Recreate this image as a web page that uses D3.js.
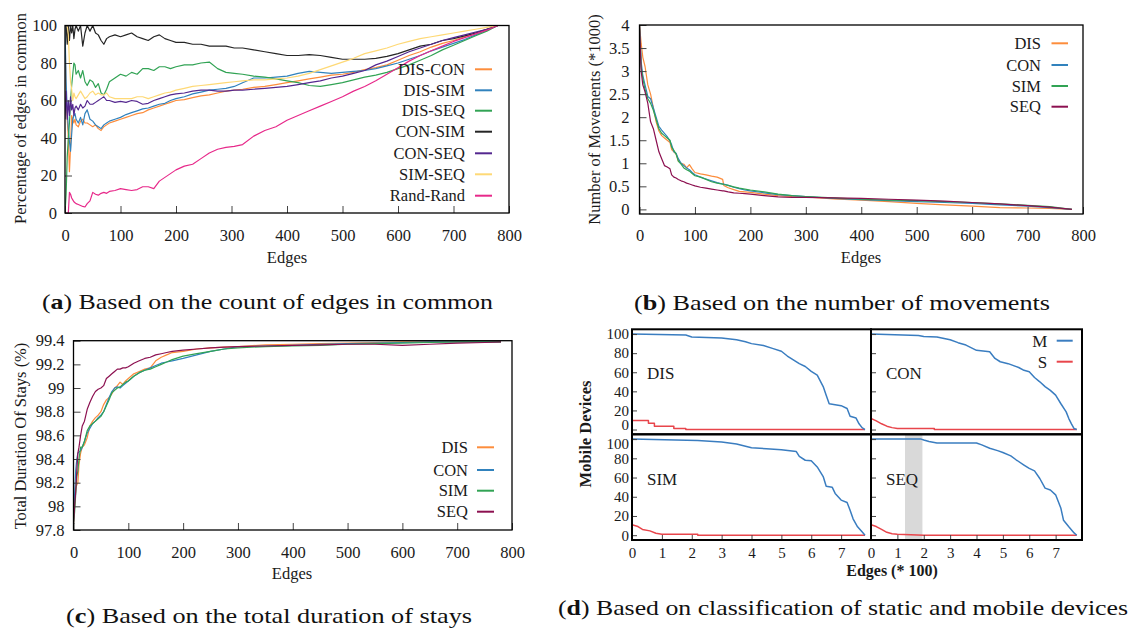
<!DOCTYPE html>
<html><head><meta charset="utf-8">
<script src="https://cdn.jsdelivr.net/npm/d3@7"></script>
<style>body{margin:0;background:#fff}</style></head>
<body>
<svg id="c" width="1130" height="630"></svg>
<script>
// ---------- Panel (a): percentage of edges in common ----------
const xA = [0,2,4,6,8,10,12,14,16,18,20,24,28,32,36,40,45,50,55,60,65,70,75,80,90,100,110,120,130,140,150,160,170,180,190,200,215,230,245,260,275,290,305,320,340,360,380,400,420,440,460,480,500,520,540,560,580,600,620,640,660,680,700,720,740,760,780];
const disCon = [100,60,50,40,22,35,52,50,48,50,47,46,49,50,48,48,47,46,47,45,44,46,47,48,49,50,51,52,53,53.5,55,56,57,58,59,60,60.5,61.5,62.5,63,64,65,65.5,66,67,67.5,68.5,69.5,70.5,71.5,72.5,73.5,74,75,76.5,77.5,79,81.5,84,86,88.5,90.5,92,94,96,98,100];
const disSim = [100,70,55,45,38,33,42,50,52,53,50,48,51,47,53,55,50,49,47,46,45,47,48,49,50,51,52.5,53.5,54.5,55.5,56,57,58,58.5,60,61,62,63.5,64.5,65.5,66,66.5,67.5,69.5,72,72,72.5,73,74.5,75.5,75,74.5,75,75.5,76,77,78.5,80,82,84,86.5,88.5,90.5,92.5,95,97.5,100];
const disSeq = [0,10,30,40,48,60,68,74,80,79,74,76,72,76,70,68,71,70,67,69,64,63,66,70,72,74,73,75,74,77,77,76,78,78,77,78,79,79,80,80.5,77,75,74.5,74,73,72.5,71.5,70.5,69.5,68,67.5,68.5,69.5,71,72.5,73.5,75,77,79,81.5,84,87,89.5,92,94.5,97,100];
const conSim = [100,100,90,100,92,100,96,100,93,98,100,97,100,89,96,100,97,100,96,95,92,90,93,94,95,94,95,96,94,93,92,94,95,93,92,91,91,90,90,89,89,89,88,88,87,86,85,84,84,84.5,84,83,82,82,82,82.5,83.5,85,87,89,90,92,93,94.5,96,98,100];
const conSeq = [50,65,50,60,52,62,55,58,52,56,57,55,58,56,57,60,58,58,59,60,61,62,60,60,59,59.5,59,60,59.5,58,58.5,60,61,62,63,63.5,64,65,65.5,65.5,65,65,65.5,65.5,66,66.5,67,67.5,68.5,69.5,70.5,72,73,74.5,76,79,81,83.5,86,88,90,92,93.5,95,96.5,98,100];
const simSeq = [100,100,100,95,80,70,66,60,64,62,61,63,65,63,61,62,64,65,63,64,63,63,64,62,61,61,61,61,62,62,61,62,63,64,64.5,65.5,66.5,67.5,68,68.5,69,69.5,70,70.5,71,71,71.5,72,73,74.5,76.5,78.5,80.5,82.5,85,86.5,88,90,91.5,93,94,95,96,97,98,99,100];
const randRand = [0,0,0,0,11,10,8,7,6,5.5,5,4.5,4,3.5,3.2,5,6.5,11,10,9.5,10.5,11,10.5,11.5,12,13,12.5,12,12.5,14,14,13,17,19,21,23,25,26,29,32,34,35,35.5,36.5,41,44,46,49.5,52,54.5,57,59.5,62,65,67.5,70.5,74,77.5,81,84,86.5,89,91.5,93.5,95.5,97.5,100];
const namesA = ["DIS-CON","DIS-SIM","DIS-SEQ","CON-SIM","CON-SEQ","SIM-SEQ","Rand-Rand"];
const xTicksA = [0,100,200,300,400,500,600,700,800];
const yTicksA = [0,20,40,60,80,100];

// ---------- Panel (b): number of movements (*1000) ----------
const xB = [0,3,6,10,15,20,25,30,35,40,45,50,55,58,62,66,70,75,80,85,90,95,100,110,120,130,140,150,152,160,170,180,190,200,225,250,275,300,350,400,450,500,550,600,650,700,740,780];
const movDIS = [4,3.6,3.3,3.1,2.7,2.5,2.2,1.9,1.7,1.6,1.55,1.5,1.45,1.3,1.25,1.2,1.05,1.0,0.98,0.9,0.97,0.88,0.8,0.77,0.75,0.72,0.7,0.65,0.52,0.47,0.43,0.39,0.38,0.37,0.33,0.3,0.28,0.27,0.23,0.2,0.17,0.13,0.1,0.07,0.04,0.03,0.02,0];
const movCON = [4,3.2,2.9,2.7,2.45,2.4,2.2,2.0,1.8,1.72,1.65,1.58,1.48,1.4,1.25,1.22,1.1,1.0,0.95,0.9,0.86,0.8,0.75,0.7,0.66,0.62,0.58,0.55,0.55,0.52,0.48,0.45,0.42,0.4,0.36,0.32,0.3,0.28,0.24,0.21,0.19,0.17,0.15,0.13,0.1,0.07,0.04,0];
const movSIM = [4,3.1,2.85,2.6,2.4,2.3,2.15,1.95,1.75,1.65,1.6,1.55,1.5,1.35,1.28,1.2,1.05,0.98,0.9,0.86,0.83,0.78,0.73,0.7,0.65,0.6,0.57,0.55,0.54,0.52,0.49,0.46,0.44,0.42,0.38,0.33,0.3,0.28,0.25,0.22,0.2,0.19,0.17,0.15,0.12,0.09,0.06,0];
const movSEQ = [4,3.0,2.7,2.55,2.3,1.9,1.75,1.5,1.25,1.1,0.95,0.92,0.88,0.75,0.7,0.68,0.65,0.62,0.6,0.57,0.55,0.53,0.51,0.48,0.46,0.44,0.42,0.4,0.4,0.38,0.36,0.35,0.34,0.33,0.3,0.27,0.26,0.26,0.25,0.24,0.22,0.2,0.18,0.15,0.12,0.08,0.05,0];
const namesB = ["DIS","CON","SIM","SEQ"];
const yTicksB = [0,0.5,1,1.5,2,2.5,3,3.5,4];

// ---------- Panel (c): total duration of stays (%) ----------
const xC = [0,2,4,6,8,10,13,16,20,25,30,35,40,45,50,55,60,65,70,75,80,85,90,95,100,110,120,130,140,150,160,170,180,200,225,250,275,300,350,400,450,500,550,600,650,700,750,780];
const durDIS = [97.85,98.0,98.15,98.18,98.2,98.35,98.45,98.5,98.52,98.58,98.68,98.72,98.75,98.77,98.8,98.86,98.9,98.92,98.95,99.0,99.02,99.05,99.03,99.06,99.08,99.12,99.14,99.16,99.17,99.23,99.26,99.28,99.3,99.31,99.33,99.34,99.345,99.35,99.365,99.37,99.375,99.38,99.385,99.39,99.39,99.39,99.39,99.39];
const durCON = [97.85,98.1,98.3,98.4,98.45,98.46,98.47,98.5,98.55,98.62,98.66,98.7,98.72,98.75,98.77,98.8,98.86,98.92,98.97,99.0,99.01,99.0,99.02,99.04,99.06,99.1,99.13,99.15,99.17,99.19,99.21,99.22,99.23,99.25,99.28,99.31,99.33,99.35,99.355,99.36,99.37,99.375,99.38,99.385,99.39,99.39,99.39,99.39];
const durSIM = [97.85,97.95,98.1,98.25,98.3,98.4,98.5,98.5,98.55,98.64,98.68,98.7,98.72,98.74,98.76,98.8,98.85,98.9,98.96,98.98,99.0,99.01,99.03,99.05,99.06,99.1,99.13,99.15,99.16,99.18,99.2,99.22,99.24,99.27,99.29,99.31,99.33,99.34,99.35,99.355,99.36,99.37,99.375,99.38,99.385,99.39,99.39,99.39];
const durSEQ = [97.85,98.0,98.12,98.3,98.45,98.5,98.6,98.68,98.72,98.82,98.88,98.93,98.97,98.99,99.0,99.02,99.08,99.1,99.12,99.14,99.16,99.16,99.17,99.17,99.18,99.21,99.23,99.25,99.26,99.28,99.29,99.3,99.31,99.32,99.33,99.34,99.345,99.35,99.355,99.36,99.365,99.37,99.37,99.36,99.37,99.38,99.385,99.39];
const yTicksC = [97.8,98,98.2,98.4,98.6,98.8,99,99.2,99.4];

// ---------- Panel (d): mobile (M) / static (S) devices ----------
const dDisMx = [0,1.8,2.0,3.0,3.5,3.8,4.0,4.4,4.7,5.0,5.2,5.4,5.6,5.8,6.0,6.2,6.4,6.5,6.6,6.8,7.0,7.2,7.3,7.5,7.6,7.7,7.8];
const dDisMy = [100,99,97,96,94,92,90,88,85,82,77,73,69,66,61,57,45,36,27,26,25,22,14,12,6,2,0];
const dDisSx = [0,0,0.55,0.55,0.75,0.75,1.4,1.4,1.8,1.8,7.8];
const dDisSy = [20,9.5,9.5,6.5,6.5,3.5,3.5,1,1,0,0];
const dConMx = [0,1.2,1.8,2.0,2.5,3.0,3.3,3.6,4.0,4.5,4.7,4.9,5.2,5.6,5.8,6.0,6.2,6.4,6.6,6.8,7.0,7.2,7.4,7.5,7.6,7.7,7.8];
const dConMy = [100,99,98.5,97.5,97,94,91,88.5,83,81.5,74.5,71,69,65,62,60.5,54.5,50,45,41,36,27,18.5,11.5,6,1,0];
const dConSx = [0,0,0.2,0.4,0.6,0.8,1.0,2.4,2.4,7.8];
const dConSy = [20,11.5,9,6,3.5,2,1,1,0,0];
const dSimMx = [0,2.2,3.0,3.5,4.0,4.5,5.0,5.5,5.6,5.8,6.0,6.2,6.4,6.5,6.7,6.8,7.0,7.2,7.3,7.4,7.55,7.7,7.8];
const dSimMy = [100,98.5,97,95,91,90,89,87,82,78,77.5,71,61,51,50,43.5,36.5,34,26,17,8.7,3.5,0];
const dSimSx = [0,0,0.2,0.35,0.6,0.8,1.0,2.2,2.2,7.8];
const dSimSy = [20,11,9,6,4.5,2,1,1,0,0];
const dSeqMx = [0,1.9,2.0,2.2,2.5,4.0,4.2,4.5,4.8,5.0,5.3,5.5,5.8,6.0,6.2,6.4,6.6,6.8,7.0,7.1,7.2,7.3,7.5,7.7,7.8];
const dSeqMy = [100,100,99,97.5,96,96,94,90.5,88,86,82.5,78.5,73,69.5,67,59,49,47,42,35,28,15.5,8.7,2.4,0];
const dSeqSx = [0,0.2,0.4,0.6,0.8,1.0,1.5,2.0,7.8];
const dSeqSy = [11,9,6,3,1.5,1,0.5,0,0];
const seqBand = [1.29,1.95];
const xTicksD = [0,1,2,3,4,5,6,7];
const yTicksD = [0,20,40,60,80,100];
const panelNamesD = ["DIS","CON","SIM","SEQ"];

const captions = [
  {tag:"a", rest:" Based on the count of edges in common"},
  {tag:"b", rest:" Based on the number of movements"},
  {tag:"c", rest:" Based on the total duration of stays"},
  {tag:"d", rest:" Based on classification of static and mobile devices"}
];

// ---------- drawing ----------
const FONT = '"Liberation Serif","Times New Roman",serif';
const svg = d3.select("#c");
svg.append("rect").attr("width",1130).attr("height",630).attr("fill","#fff");

let clipN = 0;
function panel(px0, px1, pyb, pyt, xdom, ydom) {
  const x = d3.scaleLinear().domain(xdom).range([px0, px1]);
  const y = d3.scaleLinear().domain(ydom).range([pyb, pyt]);
  const id = "clip" + (clipN++);
  svg.append("clipPath").attr("id", id).append("rect")
    .attr("x", px0).attr("y", pyt).attr("width", px1 - px0).attr("height", pyb - pyt);
  const g = svg.append("g").attr("clip-path", `url(#${id})`);
  return {x, y, g, px0, px1, pyb, pyt};
}
function axes(p, xticks, yticks, opt) {
  const tl = opt.tickLen;
  if (xticks) {
    const ax = d3.axisBottom(p.x).tickValues(xticks).tickSizeInner(-tl).tickSizeOuter(0)
      .tickPadding(opt.xpad).tickFormat(opt.xfmt || d3.format("d"));
    const g = svg.append("g").attr("transform", `translate(0,${p.pyb})`).call(ax);
    g.select(".domain").remove();
    g.selectAll("line").attr("stroke", "#444");
    g.selectAll("text").attr("font-family", FONT).attr("font-size", opt.fs).attr("fill", "#1a1a1a")
      .style("display", opt.noXLabels ? "none" : null);
  }
  if (yticks) {
    const ay = d3.axisLeft(p.y).tickValues(yticks).tickSizeInner(-tl).tickSizeOuter(0)
      .tickPadding(opt.ypad).tickFormat(opt.yfmt || (d => String(d)));
    const g = svg.append("g").attr("transform", `translate(${p.px0},0)`).call(ay);
    g.select(".domain").remove();
    g.selectAll("line").attr("stroke", "#444");
    const txt = g.selectAll("text").attr("font-family", FONT).attr("font-size", opt.fs).attr("fill", "#1a1a1a")
      .style("display", opt.noYLabels ? "none" : null);
    if (opt.nudge) txt.attr("dy", d => opt.nudge(d));
  }
}
function frame(p, w) {
  svg.append("rect").attr("x", p.px0).attr("y", p.pyt).attr("width", p.px1 - p.px0)
    .attr("height", p.pyb - p.pyt).attr("fill", "none").attr("stroke", "#000").attr("stroke-width", w);
}
function series(p, xs, ys, color, w) {
  const line = d3.line().x(d => p.x(d[0])).y(d => p.y(d[1]));
  p.g.append("path").datum(d3.zip(xs, ys)).attr("d", line)
    .attr("fill", "none").attr("stroke", color).attr("stroke-width", w)
    .attr("stroke-linejoin", "round");
}
function legend(items, xr, lx0, lx1, ys, fs) {
  items.forEach((it, i) => {
    svg.append("text").attr("x", xr).attr("y", ys[i]).attr("dy", "0.35em")
      .attr("text-anchor", "end").attr("font-family", FONT).attr("font-size", fs)
      .attr("fill", "#1a1a1a").text(it.name);
    svg.append("line").attr("x1", lx0).attr("x2", lx1).attr("y1", ys[i]).attr("y2", ys[i])
      .attr("stroke", it.color).attr("stroke-width", 2);
  });
}
function label(txt, x, y, fs, rot, bold) {
  const t = svg.append("text").attr("font-family", FONT).attr("font-size", fs)
    .attr("fill", "#1a1a1a").attr("text-anchor", "middle").attr("dy", "0.35em").text(txt);
  if (bold) t.attr("font-weight", "bold");
  if (rot) t.attr("transform", `translate(${x},${y}) rotate(-90)`);
  else t.attr("x", x).attr("y", y);
}

const cOrange = "#fd8d3c", cBlue = "#3182bd", cGreen = "#31a354", cBlack = "#252525",
      cPurple = "#54278f", cYellow = "#fed976", cPink = "#e7298a", cSeq = "#8c1050";

// Panel a
const pa = panel(65, 509, 213, 25.5, [0, 800], [0, 100]);
const seriesA = [disCon, disSim, disSeq, conSim, conSeq, simSeq, randRand];
const colorsA = [cOrange, cBlue, cGreen, cBlack, cPurple, cYellow, cPink];
seriesA.forEach((s, i) => series(pa, xA, s, colorsA[i], 1.2));
axes(pa, xTicksA, yTicksA, {tickLen: 7, xpad: 16, ypad: 8, fs: 16.5});
frame(pa, 1.3);
legend(namesA.map((n, i) => ({name: n, color: colorsA[i]})), 465, 475, 492,
  [69.3, 90.3, 110.7, 131.7, 153.3, 174.3, 195.7], 16.5);
label("Percentage of edges in common", 20.7, 118.5, 16.5, true);
label("Edges", 287, 257, 16.5);

// Panel b
const pb = panel(639.5, 1083, 214, 25, [0, 800], [-0.1, 4]);
const seriesB = [movDIS, movCON, movSIM, movSEQ];
const colorsBC = [cOrange, cBlue, cGreen, cSeq];
seriesB.forEach((s, i) => series(pb, xB, s, colorsBC[i], 1.2));
axes(pb, xTicksA, yTicksB, {tickLen: 7, xpad: 15, ypad: 10, fs: 16.5});
frame(pb, 1.3);
legend(namesB.map((n, i) => ({name: n, color: colorsBC[i]})), 1041, 1051.5, 1068,
  [43.3, 65, 86, 106.7], 16.5);
label("Number of Movements (*1000)", 594.6, 119.5, 16.5, true);
label("Edges", 861, 257, 16.5);

// Panel c
const pc = panel(73.5, 512, 530, 340.7, [0, 800], [97.8, 99.4]);
[durDIS, durCON, durSIM, durSEQ].forEach((s, i) => series(pc, xC, s, colorsBC[i], 1.2));
axes(pc, xTicksA, yTicksC, {tickLen: 7, xpad: 16, ypad: 9, fs: 16.5, yfmt: d => String(+d.toFixed(1))});
frame(pc, 1.3);
legend(namesB.map((n, i) => ({name: n, color: colorsBC[i]})), 468, 477, 494,
  [447.3, 470, 490.7, 511.7], 16.5);
label("Total Duration Of Stays (%)", 20.4, 436, 16.5, true);
label("Edges", 292, 573.3, 16.5);

// Panel d
const cM = "#3a7dc0", cS = "#e8454b";
const dPanels = [
  panel(632, 871, 434.3, 329.3, [0, 8], [-5, 105]),
  panel(871, 1082, 434.3, 329.3, [0, 8], [-5, 105]),
  panel(632, 871, 540, 434.3, [0, 8], [-5, 105]),
  panel(871, 1082, 540, 434.3, [0, 8], [-5, 105])
];
const dData = [
  [dDisMx, dDisMy, dDisSx, dDisSy],
  [dConMx, dConMy, dConSx, dConSy],
  [dSimMx, dSimMy, dSimSx, dSimSy],
  [dSeqMx, dSeqMy, dSeqSx, dSeqSy]
];
// shaded band in SEQ panel
{
  const p = dPanels[3];
  p.g.append("rect").attr("x", p.x(seqBand[0])).attr("y", p.pyt)
    .attr("width", p.x(seqBand[1]) - p.x(seqBand[0])).attr("height", p.pyb - p.pyt)
    .attr("fill", "#d9d9d9");
}
dPanels.forEach((p, i) => {
  const [mx, my, sx, sy] = dData[i];
  series(p, sx, sy, cS, 1.5);
  series(p, mx, my, cM, 1.5);
  const top = i < 2;
  axes(p, i >= 2 ? xTicksD : null, yTicksD, {
    tickLen: 5, xpad: 7, ypad: 3, fs: 15,
    noYLabels: (i % 2 === 1),
    nudge: d => (top && d === 0) ? "0.02em" : (!top && d === 100) ? "0.62em" : "0.32em"
  });
  svg.append("text").attr("x", p.px0 + 15).attr("y", top ? 373.3 : 479.3).attr("dy", "0.35em")
    .attr("font-family", FONT).attr("font-size", 17).attr("fill", "#1a1a1a").text(panelNamesD[i]);
});
dPanels.forEach(p => frame(p, 2));
legend([{name: "M", color: cM}, {name: "S", color: cS}], 1047.3, 1056.7, 1072.7, [340.7, 361.7], 17);
label("Mobile Devices", 584.8, 434, 16.5, true, true);
label("Edges (* 100)", 892, 570.5, 16, false, true);

// Captions
const capPos = [
  {x: 42, y: 309, len: 451},
  {x: 634, y: 310, len: 416},
  {x: 66, y: 623, len: 406},
  {x: 558, y: 615, len: 570}
];
captions.forEach((c, i) => {
  const t = svg.append("text").attr("x", capPos[i].x).attr("y", capPos[i].y)
    .attr("font-family", FONT).attr("font-size", 22).attr("fill", "#111")
    .attr("textLength", capPos[i].len).attr("lengthAdjust", "spacingAndGlyphs");
  t.append("tspan").text("(");
  t.append("tspan").attr("font-weight", "bold").text(c.tag);
  t.append("tspan").text(")" + c.rest);
});
</script>
</body></html>
